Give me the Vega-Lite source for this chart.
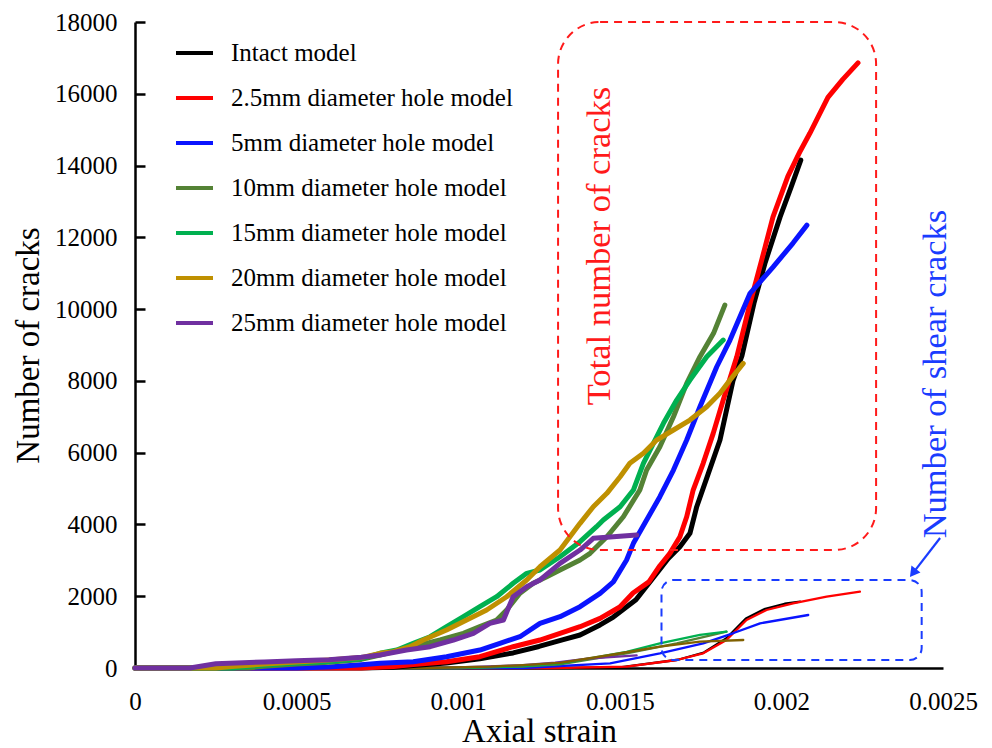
{
  "$schema": "https://vega.github.io/schema/vega-lite/v6.json",
  "width": 808,
  "height": 646,
  "autosize": {"type": "none"},
  "padding": {"left": 135, "top": 22, "right": 49, "bottom": 80},
  "background": "white",
  "config": {
    "view": {"stroke": null},
    "font": "Liberation Serif",
    "axis": {"grid": false, "domainColor": "black", "domainWidth": 2.5, "tickColor": "black", "tickWidth": 2.5, "labelColor": "black", "titleColor": "black", "labelFont": "Liberation Serif", "titleFont": "Liberation Serif", "labelFontSize": 25, "titleFontSize": 33, "titleFontWeight": "normal"},
    "legend": {"orient": "none", "legendX": 39, "legendY": 16, "symbolType": "stroke", "symbolSize": 1369, "symbolStrokeWidth": 4, "labelFont": "Liberation Serif", "labelFontSize": 25, "labelColor": "black", "labelOffset": 16, "labelLimit": 0, "clipHeight": 30, "rowPadding": 15, "padding": 0}
  },
  "data": {"values": [
    {"model": "Intact model", "kind": "total", "strain": 0, "cracks": 0},
    {"model": "Intact model", "kind": "total", "strain": 0.0007, "cracks": 0},
    {"model": "Intact model", "kind": "total", "strain": 0.0008, "cracks": 20},
    {"model": "Intact model", "kind": "total", "strain": 0.000861, "cracks": 70},
    {"model": "Intact model", "kind": "total", "strain": 0.000964, "cracks": 140},
    {"model": "Intact model", "kind": "total", "strain": 0.001067, "cracks": 260},
    {"model": "Intact model", "kind": "total", "strain": 0.00117, "cracks": 420},
    {"model": "Intact model", "kind": "total", "strain": 0.00125, "cracks": 600},
    {"model": "Intact model", "kind": "total", "strain": 0.001325, "cracks": 790},
    {"model": "Intact model", "kind": "total", "strain": 0.001377, "cracks": 920},
    {"model": "Intact model", "kind": "total", "strain": 0.001439, "cracks": 1200},
    {"model": "Intact model", "kind": "total", "strain": 0.00148, "cracks": 1420},
    {"model": "Intact model", "kind": "total", "strain": 0.00155, "cracks": 1900},
    {"model": "Intact model", "kind": "total", "strain": 0.001615, "cracks": 2650},
    {"model": "Intact model", "kind": "total", "strain": 0.00165, "cracks": 3050},
    {"model": "Intact model", "kind": "total", "strain": 0.001686, "cracks": 3380},
    {"model": "Intact model", "kind": "total", "strain": 0.001717, "cracks": 3752},
    {"model": "Intact model", "kind": "total", "strain": 0.001738, "cracks": 4494},
    {"model": "Intact model", "kind": "total", "strain": 0.001774, "cracks": 5424},
    {"model": "Intact model", "kind": "total", "strain": 0.00181, "cracks": 6352},
    {"model": "Intact model", "kind": "total", "strain": 0.00185, "cracks": 8000},
    {"model": "Intact model", "kind": "total", "strain": 0.001878, "cracks": 8700},
    {"model": "Intact model", "kind": "total", "strain": 0.001915, "cracks": 10160},
    {"model": "Intact model", "kind": "total", "strain": 0.00195, "cracks": 11300},
    {"model": "Intact model", "kind": "total", "strain": 0.001996, "cracks": 12570},
    {"model": "Intact model", "kind": "total", "strain": 0.00203, "cracks": 13400},
    {"model": "Intact model", "kind": "total", "strain": 0.00206, "cracks": 14150},

    {"model": "2.5mm diameter hole model", "kind": "total", "strain": 0, "cracks": 0},
    {"model": "2.5mm diameter hole model", "kind": "total", "strain": 0.0007, "cracks": 0},
    {"model": "2.5mm diameter hole model", "kind": "total", "strain": 0.0008, "cracks": 40},
    {"model": "2.5mm diameter hole model", "kind": "total", "strain": 0.000861, "cracks": 100},
    {"model": "2.5mm diameter hole model", "kind": "total", "strain": 0.000964, "cracks": 176},
    {"model": "2.5mm diameter hole model", "kind": "total", "strain": 0.001067, "cracks": 315},
    {"model": "2.5mm diameter hole model", "kind": "total", "strain": 0.00117, "cracks": 593},
    {"model": "2.5mm diameter hole model", "kind": "total", "strain": 0.001253, "cracks": 780},
    {"model": "2.5mm diameter hole model", "kind": "total", "strain": 0.001315, "cracks": 967},
    {"model": "2.5mm diameter hole model", "kind": "total", "strain": 0.001377, "cracks": 1151},
    {"model": "2.5mm diameter hole model", "kind": "total", "strain": 0.001439, "cracks": 1384},
    {"model": "2.5mm diameter hole model", "kind": "total", "strain": 0.0015, "cracks": 1700},
    {"model": "2.5mm diameter hole model", "kind": "total", "strain": 0.001541, "cracks": 2090},
    {"model": "2.5mm diameter hole model", "kind": "total", "strain": 0.00159, "cracks": 2400},
    {"model": "2.5mm diameter hole model", "kind": "total", "strain": 0.001624, "cracks": 2850},
    {"model": "2.5mm diameter hole model", "kind": "total", "strain": 0.001655, "cracks": 3195},
    {"model": "2.5mm diameter hole model", "kind": "total", "strain": 0.001686, "cracks": 3658},
    {"model": "2.5mm diameter hole model", "kind": "total", "strain": 0.001707, "cracks": 4215},
    {"model": "2.5mm diameter hole model", "kind": "total", "strain": 0.001727, "cracks": 4959},
    {"model": "2.5mm diameter hole model", "kind": "total", "strain": 0.001758, "cracks": 5703},
    {"model": "2.5mm diameter hole model", "kind": "total", "strain": 0.001789, "cracks": 6538},
    {"model": "2.5mm diameter hole model", "kind": "total", "strain": 0.00182, "cracks": 7467},
    {"model": "2.5mm diameter hole model", "kind": "total", "strain": 0.001862, "cracks": 8673},
    {"model": "2.5mm diameter hole model", "kind": "total", "strain": 0.001903, "cracks": 10160},
    {"model": "2.5mm diameter hole model", "kind": "total", "strain": 0.00194, "cracks": 11400},
    {"model": "2.5mm diameter hole model", "kind": "total", "strain": 0.001974, "cracks": 12570},
    {"model": "2.5mm diameter hole model", "kind": "total", "strain": 0.00202, "cracks": 13700},
    {"model": "2.5mm diameter hole model", "kind": "total", "strain": 0.002058, "cracks": 14400},
    {"model": "2.5mm diameter hole model", "kind": "total", "strain": 0.002088, "cracks": 14900},
    {"model": "2.5mm diameter hole model", "kind": "total", "strain": 0.002144, "cracks": 15900},
    {"model": "2.5mm diameter hole model", "kind": "total", "strain": 0.00219, "cracks": 16400},
    {"model": "2.5mm diameter hole model", "kind": "total", "strain": 0.002237, "cracks": 16860},

    {"model": "5mm diameter hole model", "kind": "total", "strain": 0, "cracks": 0},
    {"model": "5mm diameter hole model", "kind": "total", "strain": 0.0005, "cracks": 0},
    {"model": "5mm diameter hole model", "kind": "total", "strain": 0.0006, "cracks": 30},
    {"model": "5mm diameter hole model", "kind": "total", "strain": 0.0007, "cracks": 90},
    {"model": "5mm diameter hole model", "kind": "total", "strain": 0.000758, "cracks": 130},
    {"model": "5mm diameter hole model", "kind": "total", "strain": 0.000861, "cracks": 176},
    {"model": "5mm diameter hole model", "kind": "total", "strain": 0.000964, "cracks": 315},
    {"model": "5mm diameter hole model", "kind": "total", "strain": 0.001067, "cracks": 501},
    {"model": "5mm diameter hole model", "kind": "total", "strain": 0.001129, "cracks": 688},
    {"model": "5mm diameter hole model", "kind": "total", "strain": 0.001191, "cracks": 872},
    {"model": "5mm diameter hole model", "kind": "total", "strain": 0.001253, "cracks": 1245},
    {"model": "5mm diameter hole model", "kind": "total", "strain": 0.001315, "cracks": 1429},
    {"model": "5mm diameter hole model", "kind": "total", "strain": 0.001377, "cracks": 1708},
    {"model": "5mm diameter hole model", "kind": "total", "strain": 0.001439, "cracks": 2081},
    {"model": "5mm diameter hole model", "kind": "total", "strain": 0.00148, "cracks": 2400},
    {"model": "5mm diameter hole model", "kind": "total", "strain": 0.001521, "cracks": 3009},
    {"model": "5mm diameter hole model", "kind": "total", "strain": 0.001542, "cracks": 3474},
    {"model": "5mm diameter hole model", "kind": "total", "strain": 0.001583, "cracks": 4123},
    {"model": "5mm diameter hole model", "kind": "total", "strain": 0.001624, "cracks": 4772},
    {"model": "5mm diameter hole model", "kind": "total", "strain": 0.001666, "cracks": 5516},
    {"model": "5mm diameter hole model", "kind": "total", "strain": 0.001707, "cracks": 6352},
    {"model": "5mm diameter hole model", "kind": "total", "strain": 0.001748, "cracks": 7280},
    {"model": "5mm diameter hole model", "kind": "total", "strain": 0.0018, "cracks": 8394},
    {"model": "5mm diameter hole model", "kind": "total", "strain": 0.001841, "cracks": 9138},
    {"model": "5mm diameter hole model", "kind": "total", "strain": 0.001903, "cracks": 10439},
    {"model": "5mm diameter hole model", "kind": "total", "strain": 0.001974, "cracks": 11170},
    {"model": "5mm diameter hole model", "kind": "total", "strain": 0.002036, "cracks": 11840},
    {"model": "5mm diameter hole model", "kind": "total", "strain": 0.002079, "cracks": 12340},

    {"model": "10mm diameter hole model", "kind": "total", "strain": 0, "cracks": 0},
    {"model": "10mm diameter hole model", "kind": "total", "strain": 0.00035, "cracks": 0},
    {"model": "10mm diameter hole model", "kind": "total", "strain": 0.0004, "cracks": 50},
    {"model": "10mm diameter hole model", "kind": "total", "strain": 0.0005, "cracks": 110},
    {"model": "10mm diameter hole model", "kind": "total", "strain": 0.0006, "cracks": 160},
    {"model": "10mm diameter hole model", "kind": "total", "strain": 0.0007, "cracks": 240},
    {"model": "10mm diameter hole model", "kind": "total", "strain": 0.000758, "cracks": 362},
    {"model": "10mm diameter hole model", "kind": "total", "strain": 0.000861, "cracks": 593},
    {"model": "10mm diameter hole model", "kind": "total", "strain": 0.000944, "cracks": 780},
    {"model": "10mm diameter hole model", "kind": "total", "strain": 0.001016, "cracks": 967},
    {"model": "10mm diameter hole model", "kind": "total", "strain": 0.001067, "cracks": 1151},
    {"model": "10mm diameter hole model", "kind": "total", "strain": 0.001119, "cracks": 1337},
    {"model": "10mm diameter hole model", "kind": "total", "strain": 0.00115, "cracks": 1616},
    {"model": "10mm diameter hole model", "kind": "total", "strain": 0.001191, "cracks": 2081},
    {"model": "10mm diameter hole model", "kind": "total", "strain": 0.001232, "cracks": 2360},
    {"model": "10mm diameter hole model", "kind": "total", "strain": 0.001274, "cracks": 2544},
    {"model": "10mm diameter hole model", "kind": "total", "strain": 0.001315, "cracks": 2730},
    {"model": "10mm diameter hole model", "kind": "total", "strain": 0.001377, "cracks": 3009},
    {"model": "10mm diameter hole model", "kind": "total", "strain": 0.001408, "cracks": 3195},
    {"model": "10mm diameter hole model", "kind": "total", "strain": 0.00146, "cracks": 3658},
    {"model": "10mm diameter hole model", "kind": "total", "strain": 0.001511, "cracks": 4215},
    {"model": "10mm diameter hole model", "kind": "total", "strain": 0.001562, "cracks": 4959},
    {"model": "10mm diameter hole model", "kind": "total", "strain": 0.001583, "cracks": 5516},
    {"model": "10mm diameter hole model", "kind": "total", "strain": 0.001624, "cracks": 6166},
    {"model": "10mm diameter hole model", "kind": "total", "strain": 0.001666, "cracks": 7001},
    {"model": "10mm diameter hole model", "kind": "total", "strain": 0.001707, "cracks": 7932},
    {"model": "10mm diameter hole model", "kind": "total", "strain": 0.001748, "cracks": 8673},
    {"model": "10mm diameter hole model", "kind": "total", "strain": 0.00179, "cracks": 9325},
    {"model": "10mm diameter hole model", "kind": "total", "strain": 0.001825, "cracks": 10113},

    {"model": "15mm diameter hole model", "kind": "total", "strain": 0, "cracks": 0},
    {"model": "15mm diameter hole model", "kind": "total", "strain": 0.0003, "cracks": 0},
    {"model": "15mm diameter hole model", "kind": "total", "strain": 0.0004, "cracks": 80},
    {"model": "15mm diameter hole model", "kind": "total", "strain": 0.0005, "cracks": 140},
    {"model": "15mm diameter hole model", "kind": "total", "strain": 0.0006, "cracks": 180},
    {"model": "15mm diameter hole model", "kind": "total", "strain": 0.0007, "cracks": 260},
    {"model": "15mm diameter hole model", "kind": "total", "strain": 0.000758, "cracks": 409},
    {"model": "15mm diameter hole model", "kind": "total", "strain": 0.00081, "cracks": 501},
    {"model": "15mm diameter hole model", "kind": "total", "strain": 0.000861, "cracks": 688},
    {"model": "15mm diameter hole model", "kind": "total", "strain": 0.000913, "cracks": 872},
    {"model": "15mm diameter hole model", "kind": "total", "strain": 0.000964, "cracks": 1151},
    {"model": "15mm diameter hole model", "kind": "total", "strain": 0.001016, "cracks": 1429},
    {"model": "15mm diameter hole model", "kind": "total", "strain": 0.001067, "cracks": 1708},
    {"model": "15mm diameter hole model", "kind": "total", "strain": 0.001119, "cracks": 1986},
    {"model": "15mm diameter hole model", "kind": "total", "strain": 0.00117, "cracks": 2360},
    {"model": "15mm diameter hole model", "kind": "total", "strain": 0.001212, "cracks": 2638},
    {"model": "15mm diameter hole model", "kind": "total", "strain": 0.001253, "cracks": 2730},
    {"model": "15mm diameter hole model", "kind": "total", "strain": 0.001315, "cracks": 3101},
    {"model": "15mm diameter hole model", "kind": "total", "strain": 0.001377, "cracks": 3520},
    {"model": "15mm diameter hole model", "kind": "total", "strain": 0.001428, "cracks": 3937},
    {"model": "15mm diameter hole model", "kind": "total", "strain": 0.001449, "cracks": 4123},
    {"model": "15mm diameter hole model", "kind": "total", "strain": 0.001501, "cracks": 4494},
    {"model": "15mm diameter hole model", "kind": "total", "strain": 0.001542, "cracks": 4959},
    {"model": "15mm diameter hole model", "kind": "total", "strain": 0.001573, "cracks": 5703},
    {"model": "15mm diameter hole model", "kind": "total", "strain": 0.001604, "cracks": 6260},
    {"model": "15mm diameter hole model", "kind": "total", "strain": 0.001635, "cracks": 6817},
    {"model": "15mm diameter hole model", "kind": "total", "strain": 0.001676, "cracks": 7467},
    {"model": "15mm diameter hole model", "kind": "total", "strain": 0.001717, "cracks": 8024},
    {"model": "15mm diameter hole model", "kind": "total", "strain": 0.001769, "cracks": 8673},
    {"model": "15mm diameter hole model", "kind": "total", "strain": 0.00182, "cracks": 9138},

    {"model": "20mm diameter hole model", "kind": "total", "strain": 0, "cracks": 0},
    {"model": "20mm diameter hole model", "kind": "total", "strain": 0.00025, "cracks": 0},
    {"model": "20mm diameter hole model", "kind": "total", "strain": 0.0003, "cracks": 40},
    {"model": "20mm diameter hole model", "kind": "total", "strain": 0.0004, "cracks": 110},
    {"model": "20mm diameter hole model", "kind": "total", "strain": 0.0005, "cracks": 170},
    {"model": "20mm diameter hole model", "kind": "total", "strain": 0.0006, "cracks": 220},
    {"model": "20mm diameter hole model", "kind": "total", "strain": 0.0007, "cracks": 290},
    {"model": "20mm diameter hole model", "kind": "total", "strain": 0.000758, "cracks": 409},
    {"model": "20mm diameter hole model", "kind": "total", "strain": 0.000799, "cracks": 455},
    {"model": "20mm diameter hole model", "kind": "total", "strain": 0.000851, "cracks": 593},
    {"model": "20mm diameter hole model", "kind": "total", "strain": 0.000892, "cracks": 780},
    {"model": "20mm diameter hole model", "kind": "total", "strain": 0.000964, "cracks": 1059},
    {"model": "20mm diameter hole model", "kind": "total", "strain": 0.001026, "cracks": 1337},
    {"model": "20mm diameter hole model", "kind": "total", "strain": 0.001088, "cracks": 1616},
    {"model": "20mm diameter hole model", "kind": "total", "strain": 0.00115, "cracks": 1986},
    {"model": "20mm diameter hole model", "kind": "total", "strain": 0.001212, "cracks": 2452},
    {"model": "20mm diameter hole model", "kind": "total", "strain": 0.001253, "cracks": 2822},
    {"model": "20mm diameter hole model", "kind": "total", "strain": 0.001315, "cracks": 3287},
    {"model": "20mm diameter hole model", "kind": "total", "strain": 0.001377, "cracks": 4031},
    {"model": "20mm diameter hole model", "kind": "total", "strain": 0.001418, "cracks": 4494},
    {"model": "20mm diameter hole model", "kind": "total", "strain": 0.00146, "cracks": 4867},
    {"model": "20mm diameter hole model", "kind": "total", "strain": 0.001501, "cracks": 5330},
    {"model": "20mm diameter hole model", "kind": "total", "strain": 0.001531, "cracks": 5703},
    {"model": "20mm diameter hole model", "kind": "total", "strain": 0.001573, "cracks": 5982},
    {"model": "20mm diameter hole model", "kind": "total", "strain": 0.001614, "cracks": 6352},
    {"model": "20mm diameter hole model", "kind": "total", "strain": 0.001666, "cracks": 6631},
    {"model": "20mm diameter hole model", "kind": "total", "strain": 0.001717, "cracks": 6909},
    {"model": "20mm diameter hole model", "kind": "total", "strain": 0.001769, "cracks": 7280},
    {"model": "20mm diameter hole model", "kind": "total", "strain": 0.00181, "cracks": 7653},
    {"model": "20mm diameter hole model", "kind": "total", "strain": 0.001841, "cracks": 8024},
    {"model": "20mm diameter hole model", "kind": "total", "strain": 0.001882, "cracks": 8489},

    {"model": "25mm diameter hole model", "kind": "total", "strain": 0, "cracks": 0},
    {"model": "25mm diameter hole model", "kind": "total", "strain": 0.00017, "cracks": 0},
    {"model": "25mm diameter hole model", "kind": "total", "strain": 0.00025, "cracks": 120},
    {"model": "25mm diameter hole model", "kind": "total", "strain": 0.0004, "cracks": 170},
    {"model": "25mm diameter hole model", "kind": "total", "strain": 0.0005, "cracks": 200},
    {"model": "25mm diameter hole model", "kind": "total", "strain": 0.0006, "cracks": 230},
    {"model": "25mm diameter hole model", "kind": "total", "strain": 0.0007, "cracks": 300},
    {"model": "25mm diameter hole model", "kind": "total", "strain": 0.000758, "cracks": 362},
    {"model": "25mm diameter hole model", "kind": "total", "strain": 0.00084, "cracks": 501},
    {"model": "25mm diameter hole model", "kind": "total", "strain": 0.000913, "cracks": 593},
    {"model": "25mm diameter hole model", "kind": "total", "strain": 0.000985, "cracks": 780},
    {"model": "25mm diameter hole model", "kind": "total", "strain": 0.001047, "cracks": 967},
    {"model": "25mm diameter hole model", "kind": "total", "strain": 0.001098, "cracks": 1245},
    {"model": "25mm diameter hole model", "kind": "total", "strain": 0.00114, "cracks": 1337},
    {"model": "25mm diameter hole model", "kind": "total", "strain": 0.00117, "cracks": 1986},
    {"model": "25mm diameter hole model", "kind": "total", "strain": 0.001212, "cracks": 2265},
    {"model": "25mm diameter hole model", "kind": "total", "strain": 0.001253, "cracks": 2452},
    {"model": "25mm diameter hole model", "kind": "total", "strain": 0.001315, "cracks": 2917},
    {"model": "25mm diameter hole model", "kind": "total", "strain": 0.001377, "cracks": 3287},
    {"model": "25mm diameter hole model", "kind": "total", "strain": 0.001418, "cracks": 3613},
    {"model": "25mm diameter hole model", "kind": "total", "strain": 0.00148, "cracks": 3658},
    {"model": "25mm diameter hole model", "kind": "total", "strain": 0.001552, "cracks": 3705},

    {"model": "Intact model", "kind": "shear", "strain": 0, "cracks": 0},
    {"model": "Intact model", "kind": "shear", "strain": 0.0013, "cracks": 0},
    {"model": "Intact model", "kind": "shear", "strain": 0.0015, "cracks": 20},
    {"model": "Intact model", "kind": "shear", "strain": 0.00168, "cracks": 230},
    {"model": "Intact model", "kind": "shear", "strain": 0.00176, "cracks": 430},
    {"model": "Intact model", "kind": "shear", "strain": 0.00183, "cracks": 830},
    {"model": "Intact model", "kind": "shear", "strain": 0.00189, "cracks": 1380},
    {"model": "Intact model", "kind": "shear", "strain": 0.00195, "cracks": 1650},
    {"model": "Intact model", "kind": "shear", "strain": 0.00201, "cracks": 1790},
    {"model": "Intact model", "kind": "shear", "strain": 0.002058, "cracks": 1850},

    {"model": "2.5mm diameter hole model", "kind": "shear", "strain": 0, "cracks": 0},
    {"model": "2.5mm diameter hole model", "kind": "shear", "strain": 0.0013, "cracks": 0},
    {"model": "2.5mm diameter hole model", "kind": "shear", "strain": 0.001521, "cracks": 37},
    {"model": "2.5mm diameter hole model", "kind": "shear", "strain": 0.001676, "cracks": 223},
    {"model": "2.5mm diameter hole model", "kind": "shear", "strain": 0.001758, "cracks": 409},
    {"model": "2.5mm diameter hole model", "kind": "shear", "strain": 0.00183, "cracks": 780},
    {"model": "2.5mm diameter hole model", "kind": "shear", "strain": 0.001892, "cracks": 1337},
    {"model": "2.5mm diameter hole model", "kind": "shear", "strain": 0.001954, "cracks": 1616},
    {"model": "2.5mm diameter hole model", "kind": "shear", "strain": 0.002036, "cracks": 1801},
    {"model": "2.5mm diameter hole model", "kind": "shear", "strain": 0.00214, "cracks": 1987},
    {"model": "2.5mm diameter hole model", "kind": "shear", "strain": 0.002243, "cracks": 2126},

    {"model": "5mm diameter hole model", "kind": "shear", "strain": 0, "cracks": 0},
    {"model": "5mm diameter hole model", "kind": "shear", "strain": 0.0012, "cracks": 0},
    {"model": "5mm diameter hole model", "kind": "shear", "strain": 0.00147, "cracks": 130},
    {"model": "5mm diameter hole model", "kind": "shear", "strain": 0.001624, "cracks": 409},
    {"model": "5mm diameter hole model", "kind": "shear", "strain": 0.001758, "cracks": 688},
    {"model": "5mm diameter hole model", "kind": "shear", "strain": 0.00185, "cracks": 967},
    {"model": "5mm diameter hole model", "kind": "shear", "strain": 0.001934, "cracks": 1245},
    {"model": "5mm diameter hole model", "kind": "shear", "strain": 0.002083, "cracks": 1477},

    {"model": "10mm diameter hole model", "kind": "shear", "strain": 0, "cracks": 0},
    {"model": "10mm diameter hole model", "kind": "shear", "strain": 0.001, "cracks": 0},
    {"model": "10mm diameter hole model", "kind": "shear", "strain": 0.0012, "cracks": 40},
    {"model": "10mm diameter hole model", "kind": "shear", "strain": 0.001315, "cracks": 100},
    {"model": "10mm diameter hole model", "kind": "shear", "strain": 0.001521, "cracks": 409},
    {"model": "10mm diameter hole model", "kind": "shear", "strain": 0.001676, "cracks": 688},
    {"model": "10mm diameter hole model", "kind": "shear", "strain": 0.00183, "cracks": 1012},

    {"model": "15mm diameter hole model", "kind": "shear", "strain": 0, "cracks": 0},
    {"model": "15mm diameter hole model", "kind": "shear", "strain": 0.001, "cracks": 0},
    {"model": "15mm diameter hole model", "kind": "shear", "strain": 0.0012, "cracks": 50},
    {"model": "15mm diameter hole model", "kind": "shear", "strain": 0.001315, "cracks": 120},
    {"model": "15mm diameter hole model", "kind": "shear", "strain": 0.001521, "cracks": 450},
    {"model": "15mm diameter hole model", "kind": "shear", "strain": 0.001624, "cracks": 688},
    {"model": "15mm diameter hole model", "kind": "shear", "strain": 0.001748, "cracks": 920},
    {"model": "15mm diameter hole model", "kind": "shear", "strain": 0.00183, "cracks": 1012},

    {"model": "20mm diameter hole model", "kind": "shear", "strain": 0, "cracks": 0},
    {"model": "20mm diameter hole model", "kind": "shear", "strain": 0.0009, "cracks": 0},
    {"model": "20mm diameter hole model", "kind": "shear", "strain": 0.0011, "cracks": 40},
    {"model": "20mm diameter hole model", "kind": "shear", "strain": 0.0012, "cracks": 80},
    {"model": "20mm diameter hole model", "kind": "shear", "strain": 0.001315, "cracks": 140},
    {"model": "20mm diameter hole model", "kind": "shear", "strain": 0.00147, "cracks": 362},
    {"model": "20mm diameter hole model", "kind": "shear", "strain": 0.001624, "cracks": 593},
    {"model": "20mm diameter hole model", "kind": "shear", "strain": 0.001748, "cracks": 733},
    {"model": "20mm diameter hole model", "kind": "shear", "strain": 0.001882, "cracks": 780},

    {"model": "25mm diameter hole model", "kind": "shear", "strain": 0, "cracks": 0},
    {"model": "25mm diameter hole model", "kind": "shear", "strain": 0.0008, "cracks": 0},
    {"model": "25mm diameter hole model", "kind": "shear", "strain": 0.001, "cracks": 20},
    {"model": "25mm diameter hole model", "kind": "shear", "strain": 0.0012, "cracks": 80},
    {"model": "25mm diameter hole model", "kind": "shear", "strain": 0.0013, "cracks": 150},
    {"model": "25mm diameter hole model", "kind": "shear", "strain": 0.0014, "cracks": 260},
    {"model": "25mm diameter hole model", "kind": "shear", "strain": 0.001552, "cracks": 350}
  ]},
  "layer": [
    {
      "transform": [{"filter": "datum.kind === 'shear' && datum.model !== '20mm diameter hole model'"}],
      "mark": {"type": "line", "strokeWidth": 2.3, "strokeCap": "round", "strokeJoin": "round"},
      "encoding": {
        "x": {"field": "strain", "type": "quantitative", "scale": {"domain": [0, 0.0025], "nice": false}, "axis": {"title": "Axial strain", "values": [0, 0.0005, 0.001, 0.0015, 0.002, 0.0025], "format": "~g", "ticks": false, "labelPadding": 21, "titlePadding": 1, "labelFlush": false, "labelFont": "Liberation Serif", "labelFontSize": 25, "titleFont": "Liberation Serif", "titleFontSize": 33, "titleFontWeight": "normal", "labelColor": "black", "titleColor": "black"}},
        "y": {"field": "cracks", "type": "quantitative", "scale": {"domain": [0, 18000], "nice": false}, "axis": {"title": "Number of cracks", "values": [0, 2000, 4000, 6000, 8000, 10000, 12000, 14000, 16000, 18000], "format": "d", "tickSize": -10, "labelPadding": 28, "titlePadding": 9, "labelFont": "Liberation Serif", "labelFontSize": 25, "titleFont": "Liberation Serif", "titleFontSize": 33, "titleFontWeight": "normal", "labelColor": "black", "titleColor": "black"}},
        "color": {"field": "model", "type": "nominal", "title": null,
          "legend": {"labelFont": "Liberation Serif", "labelFontSize": 25, "labelColor": "black"},
          "scale": {"domain": ["Intact model", "2.5mm diameter hole model", "5mm diameter hole model", "10mm diameter hole model", "15mm diameter hole model", "20mm diameter hole model", "25mm diameter hole model"],
                    "range": ["#000000", "#ff0000", "#0a14ff", "#548235", "#00b050", "#bf9000", "#7030a0"]}},
        "detail": {"field": "kind"}
      }
    },
    {
      "transform": [{"filter": "datum.kind === 'shear' && datum.model === '20mm diameter hole model'"}],
      "mark": {"type": "line", "strokeWidth": 2.3, "strokeCap": "round", "strokeJoin": "round", "color": "#806000"},
      "encoding": {
        "x": {"field": "strain", "type": "quantitative", "title": "Axial strain", "scale": {"domain": [0, 0.0025], "nice": false}},
        "y": {"field": "cracks", "type": "quantitative", "title": "Number of cracks", "scale": {"domain": [0, 18000], "nice": false}}
      }
    },
    {
      "transform": [{"filter": "datum.kind === 'total'"}],
      "mark": {"type": "line", "strokeWidth": 5, "strokeCap": "round", "strokeJoin": "round"},
      "encoding": {
        "x": {"field": "strain", "type": "quantitative", "title": "Axial strain", "scale": {"domain": [0, 0.0025], "nice": false}},
        "y": {"field": "cracks", "type": "quantitative", "title": "Number of cracks", "scale": {"domain": [0, 18000], "nice": false}},
        "color": {"field": "model", "type": "nominal", "title": null},
        "detail": {"field": "kind"}
      }
    },
    {
      "data": {"values": [{}]},
      "mark": {"type": "rect", "fill": "transparent", "stroke": "#ff1a1a", "strokeWidth": 2, "strokeDash": [8, 6], "cornerRadius": 42},
      "encoding": {
        "x": {"datum": 0.001309, "type": "quantitative", "title": "Axial strain", "scale": {"domain": [0, 0.0025], "nice": false}},
        "x2": {"datum": 0.002293},
        "y": {"datum": 18000, "type": "quantitative", "title": "Number of cracks", "scale": {"domain": [0, 18000], "nice": false}},
        "y2": {"datum": 3287}
      }
    },
    {
      "data": {"values": [{}]},
      "mark": {"type": "rect", "fill": "transparent", "stroke": "#1a3cff", "strokeWidth": 2, "strokeDash": [8, 6], "cornerRadius": 12},
      "encoding": {
        "x": {"datum": 0.001629, "type": "quantitative", "title": "Axial strain", "scale": {"domain": [0, 0.0025], "nice": false}},
        "x2": {"datum": 0.002434},
        "y": {"datum": 2452, "type": "quantitative", "title": "Number of cracks", "scale": {"domain": [0, 18000], "nice": false}},
        "y2": {"datum": 223}
      }
    },
    {
      "data": {"values": [{}]},
      "mark": {"type": "text", "text": "Total number of cracks", "angle": 270, "fontSize": 34.5, "font": "Liberation Serif", "color": "#ff1a1a", "align": "center", "baseline": "middle"},
      "encoding": {
        "x": {"datum": 0.001439, "type": "quantitative", "title": "Axial strain", "scale": {"domain": [0, 0.0025], "nice": false}},
        "y": {"datum": 11757, "type": "quantitative", "title": "Number of cracks", "scale": {"domain": [0, 18000], "nice": false}}
      }
    },
    {
      "data": {"values": [{}]},
      "mark": {"type": "text", "text": "Number of shear cracks", "angle": 270, "fontSize": 34.5, "font": "Liberation Serif", "color": "#1a3cff", "align": "center", "baseline": "middle"},
      "encoding": {
        "x": {"datum": 0.002478, "type": "quantitative", "title": "Axial strain", "scale": {"domain": [0, 0.0025], "nice": false}},
        "y": {"datum": 8191, "type": "quantitative", "title": "Number of cracks", "scale": {"domain": [0, 18000], "nice": false}}
      }
    },
    {
      "data": {"values": [{}]},
      "mark": {"type": "rule", "color": "#1a3cff", "strokeWidth": 2.2},
      "encoding": {
        "x": {"datum": 0.002491, "type": "quantitative", "title": "Axial strain", "scale": {"domain": [0, 0.0025], "nice": false}},
        "y": {"datum": 3622, "type": "quantitative", "title": "Number of cracks", "scale": {"domain": [0, 18000], "nice": false}},
        "x2": {"datum": 0.00241},
        "y2": {"datum": 2680}
      }
    },
    {
      "data": {"values": [{}]},
      "mark": {"type": "point", "shape": "triangle-up", "filled": true, "size": 130, "angle": 217.6, "color": "#1a3cff", "opacity": 1},
      "encoding": {
        "x": {"datum": 0.002407, "type": "quantitative", "title": "Axial strain", "scale": {"domain": [0, 0.0025], "nice": false}},
        "y": {"datum": 2647, "type": "quantitative", "title": "Number of cracks", "scale": {"domain": [0, 18000], "nice": false}}
      }
    }
  ]
}
